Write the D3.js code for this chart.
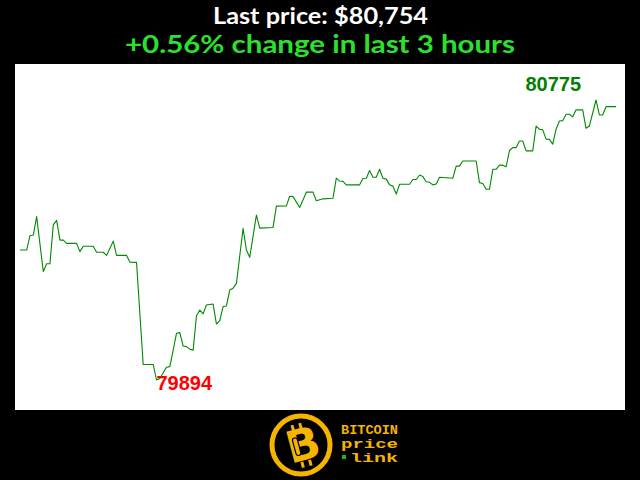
<!DOCTYPE html>
<html>
<head>
<meta charset="utf-8">
<script src="https://cdn.jsdelivr.net/npm/d3@7"></script>
<style>
  html, body { margin: 0; padding: 0; background: #000; }
  svg { display: block; }
</style>
</head>
<body>
<svg id="chart" width="640" height="480"></svg>
<script>
// ---- data (minute index within the last 3 hours, price in USD) ----
const minutes = [0,2,3,4,5,7,8,9,10,11,12,13,14,17,18,19,22,23,25,26,28,29,32,33,35,37,40,41,42,44,45,46,47,48,49,50,51,52,53,54,55,56,58,59,60,61,62,63,64,65,67,68,69,71,72,76,77,80,81,82,84,86,88,89,91,94,95,96,97,98,102,103,104,105,106,107,108,109,110,111,112,113,114,117,118,119,120,121,122,123,124,125,126,130,131,132,133,137,138,139,140,141,142,143,144,145,146,147,148,149,150,151,152,154,155,156,157,158,159,160,161,162,163,164,165,166,167,169,170,171,173,174,175,176,179];
const prices = [80303,80303,80348,80350,80408,80235,80260,80260,80382,80396,80334,80334,80324,80324,80298,80315,80315,80296,80296,80286,80331,80286,80286,80265,80264,79943,79943,79894,79899,79934,79936,79988,80041,80043,80001,79999,79991,79988,80096,80114,80102,80130,80133,80070,80081,80125,80127,80177,80183,80198,80371,80303,80280,80413,80372,80374,80441,80442,80472,80471,80437,80485,80485,80458,80464,80466,80529,80520,80519,80508,80508,80528,80529,80553,80532,80532,80557,80529,80526,80508,80504,80479,80510,80510,80525,80525,80539,80534,80518,80516,80508,80511,80532,80529,80567,80567,80583,80583,80515,80512,80494,80494,80557,80557,80570,80570,80565,80616,80625,80625,80646,80646,80615,80615,80693,80683,80681,80652,80651,80636,80683,80709,80710,80730,80730,80722,80744,80744,80686,80693,80775,80728,80728,80754,80754];
const totalMinutes = 179;
const titleLine1 = "Last price: $80,754";
const titleLine2 = "+0.56% change in last 3 hours";
const logoWords = ["BITCOIN", "price", "link"];

const data = minutes.map((m, i) => ({ m, p: prices[i] }));
const minD = data.reduce((a, b) => (b.p < a.p ? b : a));
const maxD = data.reduce((a, b) => (b.p > a.p ? b : a));

const svg = d3.select("#chart");
svg.append("rect").attr("width", 640).attr("height", 480).attr("fill", "#000");

// titles
svg.append("text")
  .attr("x", 320.5).attr("y", 24)
  .attr("text-anchor", "middle")
  .attr("font-family", "Lato, 'Open Sans', sans-serif")
  .attr("font-weight", 700).attr("font-size", 23)
  .attr("fill", "#fff")
  .attr("textLength", 215).attr("lengthAdjust", "spacingAndGlyphs")
  .text(titleLine1);
svg.append("text")
  .attr("x", 320).attr("y", 53)
  .attr("text-anchor", "middle")
  .attr("font-family", "Lato, 'Open Sans', sans-serif")
  .attr("font-weight", 700).attr("font-size", 25)
  .attr("fill", "#2ee02e")
  .attr("textLength", 390).attr("lengthAdjust", "spacingAndGlyphs")
  .text(titleLine2);

// plot area
svg.append("rect")
  .attr("x", 15).attr("y", 64).attr("width", 610).attr("height", 346)
  .attr("fill", "#fff");

const x = d3.scaleLinear().domain([0, totalMinutes]).range([20, 616]);
const y = d3.scaleLinear().domain([minD.p, maxD.p]).range([380, 100]);

const line = d3.line().x(d => x(d.m)).y(d => y(d.p));
svg.append("path")
  .datum(data)
  .attr("d", line)
  .attr("fill", "none")
  .attr("stroke", "#008a00")
  .attr("stroke-width", 1.1)
  .attr("stroke-linejoin", "round");

// min / max labels
svg.append("text")
  .attr("x", x(minD.m)).attr("y", y(minD.p) + 10)
  .attr("text-anchor", "start")
  .attr("font-family", "'Liberation Sans', Arial, sans-serif")
  .attr("font-weight", 700).attr("font-size", 20)
  .attr("fill", "#f00")
  .text(minD.p);
svg.append("text")
  .attr("x", x(maxD.m) - 15).attr("y", y(maxD.p) - 9)
  .attr("text-anchor", "end")
  .attr("font-family", "'Liberation Sans', Arial, sans-serif")
  .attr("font-weight", 700).attr("font-size", 20)
  .attr("fill", "#008000")
  .text(maxD.p);

// logo
const gold = "#f5b400";
const logo = svg.append("g");
logo.append("circle").attr("cx", 301).attr("cy", 445).attr("r", 29)
  .attr("fill", "#000").attr("stroke", gold).attr("stroke-width", 5);
const bg = logo.append("g").attr("transform", "translate(303,445) rotate(-15)");
bg.append("text")
  .attr("x", 0).attr("y", 15)
  .attr("text-anchor", "middle")
  .attr("font-family", "'DejaVu Sans', sans-serif")
  .attr("font-weight", 700).attr("font-size", 44)
  .attr("fill", gold)
  .text("B");
[-7, 1].forEach(dx => {
  bg.append("rect").attr("x", dx).attr("y", -22).attr("width", 3).attr("height", 6).attr("fill", gold);
  bg.append("rect").attr("x", dx).attr("y", 16).attr("width", 3).attr("height", 6).attr("fill", gold);
});
bg.append("rect").attr("x", -9).attr("y", -9).attr("width", 5).attr("height", 18)
  .attr("rx", 2.5).attr("fill", "none").attr("stroke", "#000").attr("stroke-width", 1.2);

const wordX = [341, 341, 350];
const wordLen = [57, 57, 48];
logoWords.forEach((w, i) => {
  svg.append("text")
    .attr("x", wordX[i]).attr("y", 434 + i * 14)
    .attr("font-family", "'Liberation Mono', 'DejaVu Sans Mono', monospace")
    .attr("font-weight", 700).attr("font-size", 13.5)
    .attr("fill", gold)
    .attr("textLength", wordLen[i]).attr("lengthAdjust", "spacingAndGlyphs")
    .text(w);
});
svg.append("rect").attr("x", 342).attr("y", 455).attr("width", 4).attr("height", 4).attr("fill", "#1db31d");
</script>
</body>
</html>
